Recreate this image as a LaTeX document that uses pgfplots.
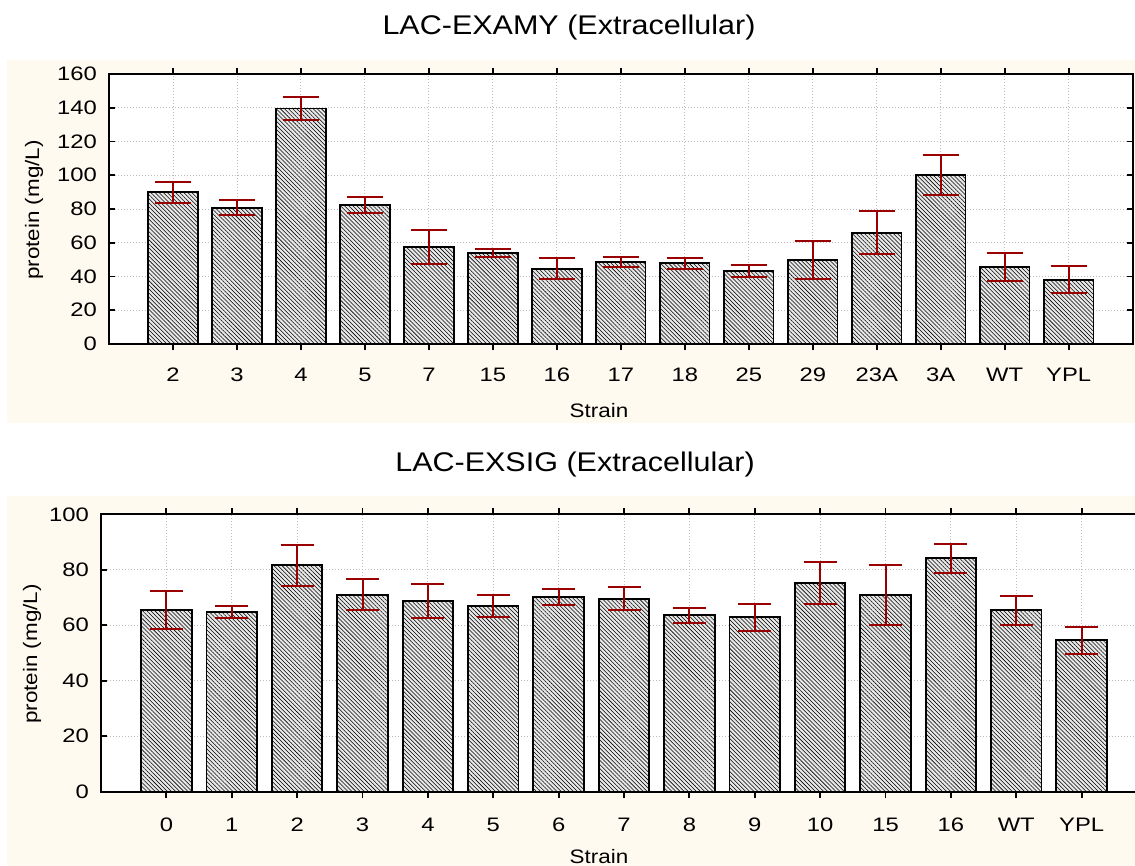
\documentclass[border=0pt]{standalone}
\usepackage{fontspec}
\setmainfont{Liberation Sans}
\newfontfamily\tickfont[FakeStretch=1.22]{Liberation Sans}
\newfontfamily\labelfont[FakeStretch=1.15]{Liberation Sans}
\newfontfamily\titlefont[FakeStretch=1.13]{Liberation Sans}
\usepackage{pgfplots}
\pgfplotsset{compat=1.18}
\usetikzlibrary{patterns.meta}

\definecolor{panel}{RGB}{255,250,239}
\definecolor{errred}{RGB}{155,0,0}
\definecolor{gridgray}{RGB}{190,190,190}

\pgfplotsset{
  strainbars/.style={
    scale only axis,
    axis background/.style={fill=white},
    axis line style={line width=1.8pt, black},
    tick align=inside,
    major tick length=6pt,
    every tick/.style={black, line width=1.8pt},
    xmajorgrids, ymajorgrids,
    grid style={gridgray, line width=0.9pt, dash pattern=on 1pt off 2pt},
    ybar,
    ymin=0,
    tick label style={font=\tickfont\fontsize{19.5}{22}\selectfont, inner sep=0pt},
    /pgf/number format/assume math mode=true,
    yticklabel style={anchor=east, xshift=-12pt},
  },
  hatched/.style={
    draw=black, line width=1.8pt,
    preaction={fill=gray!18},
    pattern={Lines[angle=-45, distance=2.9pt, line width=0.55pt]},
    pattern color=black,
  },
  sderr/.style={
    error bars/.cd,
      y dir=both, y explicit,
      error mark=|,
      error bar style={line width=2pt, errred},
      error mark options={line width=2pt, errred, mark size=#1},
  },
}

\begin{document}
\begin{tikzpicture}
\useasboundingbox (0,0) rectangle (1135pt,866pt);
\clip (0,0) rectangle (1135pt,866pt);

% panel backgrounds
\fill[panel] (7pt,443pt) rectangle (1135pt,806pt);
\fill[panel] (7pt,-5pt) rectangle (1135pt,370pt);

% LAC-EXAMY
\begin{axis}[
  strainbars,
  at={(109pt,522pt)}, anchor=south west,
  width=1023.7pt, height=270pt,
  xmin=0, xmax=16,
  ymax=160, ytick={0,20,...,160},
  bar width=49.5pt,
  xtick={1,...,15},
  xticklabels={2,3,4,5,7,15,16,17,18,25,29,23A,3A,WT,YPL},
  xticklabel style={anchor=base, yshift=-32pt},
]
\addplot[hatched, sderr=18pt] coordinates {
  (1,90.0)   +- (0,6.2)
  (2,80.8)   +- (0,4.4)
  (3,139.5)  +- (0,7.0)
  (4,82.4)   +- (0,4.7)
  (5,57.5)   +- (0,10.2)
  (6,53.8)   +- (0,2.2)
  (7,44.6)   +- (0,6.2)
  (8,48.7)   +- (0,3.0)
  (9,47.8)   +- (0,3.3)
  (10,43.4)  +- (0,3.6)
  (11,49.8)  +- (0,11.0)
  (12,66.0)  +- (0,12.7)
  (13,100.1) +- (0,12.0)
  (14,45.7)  +- (0,8.2)
  (15,38.1)  +- (0,8.1)
};
\end{axis}

% LAC-EXSIG
\begin{axis}[
  strainbars,
  at={(101pt,74.3pt)}, anchor=south west,
  width=1046pt, height=277.4pt,
  xmin=-1, xmax=15,
  ymax=100, ytick={0,20,...,100},
  bar width=50.5pt,
  xtick={0,...,14},
  xticklabels={0,1,2,3,4,5,6,7,8,9,10,15,16,WT,YPL},
  xticklabel style={anchor=base, yshift=-34pt},
]
\addplot[hatched, sderr=16.5pt] coordinates {
  (0,65.4)  +- (0,6.9)
  (1,64.7)  +- (0,2.2)
  (2,81.6)  +- (0,7.3)
  (3,71.0)  +- (0,5.5)
  (4,68.7)  +- (0,6.2)
  (5,67.0)  +- (0,3.9)
  (6,70.2)  +- (0,3.0)
  (7,69.6)  +- (0,4.2)
  (8,63.6)  +- (0,2.7)
  (9,62.9)  +- (0,4.8)
  (10,75.2) +- (0,7.6)
  (11,70.9) +- (0,10.7)
  (12,84.2) +- (0,5.2)
  (13,65.4) +- (0,5.2)
  (14,54.6) +- (0,4.9)
};
\end{axis}

% titles and axis labels
\node[anchor=base, font=\titlefont\fontsize{27}{30}\selectfont] at (569pt,831.7pt) {LAC-EXAMY (Extracellular)};
\node[anchor=base, font=\titlefont\fontsize{27}{30}\selectfont] at (575pt,394pt) {LAC-EXSIG (Extracellular)};
\node[anchor=base, font=\labelfont\fontsize{19.5}{22}\selectfont] at (599pt,448pt) {Strain};
\node[anchor=base, font=\labelfont\fontsize{19.5}{22}\selectfont] at (599pt,2pt) {Strain};
\node[anchor=base, rotate=90, font=\labelfont\fontsize{19.5}{22}\selectfont] at (39pt,656pt) {protein (mg/L)};
\node[anchor=base, rotate=90, font=\labelfont\fontsize{19.5}{22}\selectfont] at (37pt,212pt) {protein (mg/L)};
\end{tikzpicture}
\end{document}
